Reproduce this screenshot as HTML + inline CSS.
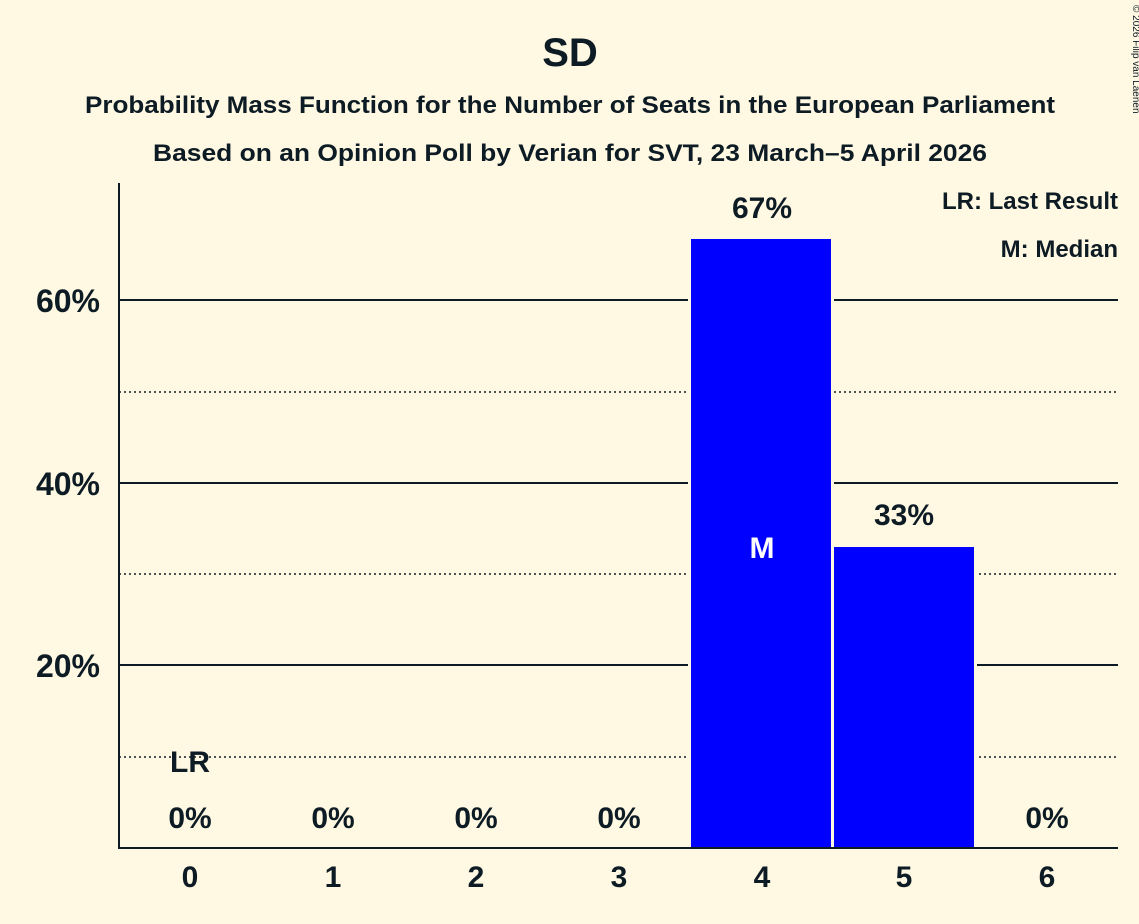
<!DOCTYPE html>
<html><head><style>
body{margin:0;background:#fff8e2;}
svg{display:block;font-family:"Liberation Sans",sans-serif;font-weight:bold;}
</style></head><body>
<svg width="1139" height="924" xmlns="http://www.w3.org/2000/svg">
<rect width="1139" height="924" fill="#fff8e2"/>
<g fill="#0d1b24" text-anchor="middle">
<text x="570" y="66" font-size="40">SD</text>
<text x="570" y="113" font-size="24" textLength="970" lengthAdjust="spacingAndGlyphs">Probability Mass Function for the Number of Seats in the European Parliament</text>
<text x="570" y="161" font-size="24" textLength="834" lengthAdjust="spacingAndGlyphs">Based on an Opinion Poll by Verian for SVT, 23 March–5 April 2026</text>
</g>
<text x="1133" y="5" font-size="10" fill="#0d1b24" transform="rotate(90 1133 5)" style="font-weight:normal">© 2026 Filip van Laenen</text>
<g stroke="#0d1b24" stroke-width="1.5" stroke-dasharray="2,3">
<line x1="119" x2="1118" y1="757" y2="757"/>
<line x1="119" x2="1118" y1="574" y2="574"/>
<line x1="119" x2="1118" y1="392" y2="392"/>
</g>
<g stroke="#0d1b24" stroke-width="2">
<line x1="119" x2="1118" y1="300" y2="300"/>
<line x1="119" x2="1118" y1="483" y2="483"/>
<line x1="119" x2="1118" y1="665" y2="665"/>
</g>
<rect x="688" y="236" width="146" height="612" fill="#fff8e2"/>
<rect x="831" y="544" width="146" height="304" fill="#fff8e2"/>
<rect x="691" y="239" width="140" height="609" fill="#0000ff"/>
<rect x="834" y="547" width="140" height="301" fill="#0000ff"/>
<g stroke="#0d1b24" stroke-width="2">
<line x1="119" x2="119" y1="183" y2="849"/>
<line x1="118" x2="1118" y1="848" y2="848"/>
</g>
<g fill="#0d1b24" font-size="32" text-anchor="end">
<text x="100" y="312">60%</text>
<text x="100" y="495">40%</text>
<text x="100" y="677">20%</text>
</g>
<g fill="#0d1b24" font-size="30" text-anchor="middle">
<text x="190" y="887">0</text><text x="333" y="887">1</text><text x="476" y="887">2</text><text x="619" y="887">3</text><text x="762" y="887">4</text><text x="904" y="887">5</text><text x="1047" y="887">6</text>
</g>
<g fill="#0d1b24" font-size="30" text-anchor="middle">
<text x="190" y="828">0%</text><text x="333" y="828">0%</text><text x="476" y="828">0%</text><text x="619" y="828">0%</text><text x="1047" y="828">0%</text>
<text x="762" y="218">67%</text><text x="904" y="525">33%</text>
<text x="190" y="772">LR</text>
</g>
<text x="762" y="558" fill="#fff" font-size="30" text-anchor="middle">M</text>
<g fill="#0d1b24" font-size="24" text-anchor="end">
<text x="1118" y="209">LR: Last Result</text>
<text x="1118" y="257">M: Median</text>
</g>
</svg>
</body></html>
